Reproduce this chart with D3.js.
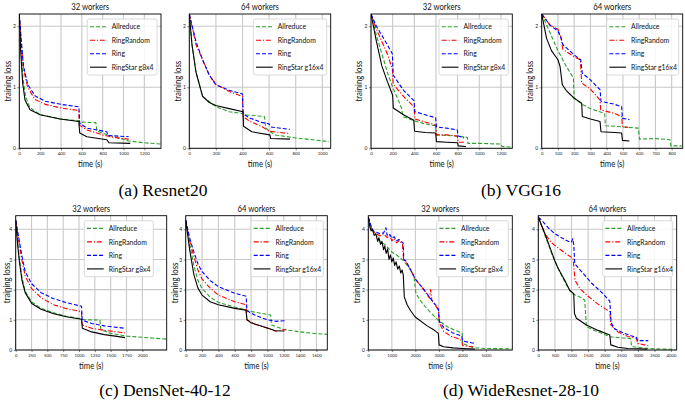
<!DOCTYPE html>
<html><head><meta charset="utf-8">
<script src="https://cdn.jsdelivr.net/npm/d3@7"></script>
<style>
html,body{margin:0;padding:0;background:#fff;}
svg{display:block;}
</style></head>
<body>
<svg id="chart" width="685" height="403"></svg>
<script>
// ---------- DATA ----------
const seriesNames = ["Allreduce", "RingRandom", "Ring", "RingStar"];
const captions = ["(a) Resnet20", "(b) VGG16", "(c) DensNet-40-12", "(d) WideResnet-28-10"];
const panelTitles = ["32 workers", "64 workers", "32 workers", "64 workers", "32 workers", "64 workers", "32 workers", "64 workers"];
const ringStarLabels = ["RingStar g8x4", "RingStar g16x4", "RingStar g8x4", "RingStar g16x4", "RingStar g8x4", "RingStar g16x4", "RingStar g8x4", "RingStar g16x4"];
const xTicksResnet32 = [0, 200, 400, 600, 800, 1000, 1200];
const xTicksResnet64 = [0, 200, 400, 600, 800, 1000];
const xTicksVgg32 = [0, 200, 400, 600, 800, 1000, 1200];
const xTicksVgg64 = [0, 100, 200, 300, 400, 500, 600, 700, 800];
const xTicksDense32 = [0, 250, 500, 750, 1000, 1250, 1500, 1750, 2000];
const xTicksDense64 = [0, 200, 400, 600, 800, 1000, 1200, 1400, 1600];
const xTicksWide32 = [0, 1000, 2000, 3000, 4000, 5000];
const xTicksWide64 = [0, 500, 1000, 1500, 2000, 2500, 3000, 3500, 4000];
const yTicksTop = [0, 1, 2];
const yTicksBottom = [0, 1, 2, 3, 4];
const xMax = [1360, 1063, 1305, 868, 2385, 1733, 6120, 4170];
const yMax = [2.2, 2.2, 2.2, 2.2, 4.45, 4.45, 4.45, 4.45];

// Resnet20, 32 workers
const resnet32_allreduce = [[0,2.2],[15,1.7],[35,1.15],[60,0.85],[100,0.67],[200,0.55],[400,0.48],[575,0.45],[580,0.43],[735,0.42],[745,0.28],[850,0.22],[950,0.17],[1050,0.12],[1200,0.09],[1360,0.07]];
const resnet32_ringrandom = [[0,2.2],[15,1.8],[40,1.3],[80,1.0],[150,0.8],[250,0.72],[400,0.66],[570,0.62],[577,0.38],[650,0.3],[800,0.22],[900,0.18],[1050,0.15]];
const resnet32_ring = [[0,2.2],[15,1.85],[40,1.35],[80,1.05],[150,0.86],[250,0.77],[400,0.72],[572,0.68],[580,0.41],[650,0.33],[840,0.27],[850,0.21],[1050,0.19]];
const resnet32_ringstar = [[0,2.2],[13,1.6],[32,1.07],[55,0.79],[103,0.63],[200,0.55],[390,0.48],[571,0.44],[580,0.25],[648,0.19],[840,0.14],[860,0.09],[1065,0.08]];
// Resnet20, 64 workers
const resnet64_allreduce = [[0,2.2],[20,1.7],[50,1.25],[100,0.85],[200,0.68],[300,0.6],[400,0.57],[405,0.55],[565,0.52],[575,0.33],[640,0.22],[800,0.17],[1050,0.11]];
const resnet64_ringrandom = [[0,2.2],[50,1.7],[100,1.45],[150,1.2],[200,1.05],[300,0.93],[400,0.85],[404,0.52],[450,0.45],[550,0.35],[600,0.28],[755,0.24]];
const resnet64_ring = [[0,2.2],[50,1.75],[100,1.45],[150,1.2],[200,1.04],[300,0.95],[400,0.89],[404,0.57],[450,0.5],[550,0.42],[600,0.4],[612,0.35],[755,0.31]];
const resnet64_ringstar = [[0,2.2],[20,1.7],[50,1.25],[100,0.85],[150,0.75],[200,0.7],[300,0.65],[404,0.6],[408,0.36],[470,0.27],[606,0.22],[612,0.16],[757,0.15]];
// VGG16, 32 workers
const vgg32_allreduce = [[0,2.2],[50,1.85],[100,1.55],[150,1.25],[200,1.0],[250,0.8],[283,0.65],[295,0.52],[400,0.45],[500,0.4],[595,0.37],[605,0.22],[700,0.21],[800,0.2],[890,0.18],[895,0.08],[1000,0.08],[1200,0.07],[1210,0.03],[1305,0.02]];
const vgg32_ringrandom = [[0,2.2],[50,1.95],[100,1.75],[150,1.55],[197,1.3],[205,1.05],[300,0.85],[397,0.68],[405,0.48],[500,0.43],[597,0.38],[605,0.22],[700,0.22],[797,0.2],[805,0.1],[860,0.1]];
const vgg32_ring = [[0,2.2],[50,2.0],[100,1.85],[150,1.7],[197,1.55],[205,1.2],[300,0.95],[397,0.78],[405,0.6],[500,0.55],[597,0.5],[605,0.35],[700,0.33],[797,0.3],[805,0.2],[860,0.17]];
const vgg32_ringstar = [[0,2.2],[50,1.75],[100,1.35],[150,1.1],[200,0.87],[206,0.66],[300,0.55],[395,0.46],[403,0.28],[500,0.26],[597,0.25],[605,0.11],[700,0.1],[800,0.09],[806,0.04],[877,0.03]];
// VGG16, 64 workers
const vgg64_allreduce = [[0,2.2],[50,1.9],[100,1.6],[150,1.35],[195,1.15],[200,0.82],[250,0.72],[300,0.65],[388,0.57],[392,0.37],[450,0.36],[500,0.35],[595,0.33],[602,0.15],[700,0.16],[790,0.14],[795,0.04],[862,0.04]];
const vgg64_ringrandom = [[0,2.2],[50,2.02],[100,1.95],[118,1.83],[130,1.62],[200,1.5],[238,1.45],[246,1.07],[300,0.97],[359,0.79],[363,0.63],[450,0.57],[492,0.52],[497,0.36],[533,0.34]];
const vgg64_ring = [[0,2.2],[50,2.02],[100,1.92],[120,1.8],[130,1.7],[200,1.53],[240,1.45],[250,1.23],[300,1.12],[359,0.96],[365,0.77],[450,0.72],[492,0.68],[497,0.49],[540,0.47]];
const vgg64_ringstar = [[0,2.2],[30,1.8],[60,1.6],[100,1.45],[113,1.34],[127,1.04],[150,0.95],[200,0.82],[246,0.74],[250,0.52],[300,0.48],[359,0.44],[365,0.27],[450,0.26],[492,0.25],[497,0.13],[540,0.12]];
// DensNet-40-12, 32 workers
const dense32_allreduce = [[0,4.3],[30,3.6],[60,3.0],[100,2.4],[150,1.95],[250,1.6],[400,1.38],[600,1.23],[800,1.12],[1040,1.03],[1050,1.01],[1330,0.99],[1345,0.68],[1500,0.55],[1750,0.46],[2000,0.42],[2385,0.36]];
const dense32_ringrandom = [[0,4.3],[50,3.6],[100,2.95],[150,2.45],[250,2.04],[400,1.73],[600,1.5],[800,1.37],[1040,1.27],[1050,0.83],[1200,0.72],[1400,0.65],[1600,0.6],[1726,0.57]];
const dense32_ring = [[0,4.3],[50,3.7],[100,3.1],[150,2.6],[250,2.2],[400,1.9],[600,1.7],[800,1.57],[1040,1.45],[1050,0.99],[1200,0.88],[1400,0.8],[1600,0.75],[1726,0.72]];
const dense32_ringstar = [[0,4.3],[30,3.5],[60,2.9],[100,2.3],[150,1.9],[253,1.54],[400,1.35],[600,1.2],[800,1.1],[1040,1.02],[1053,0.72],[1200,0.6],[1400,0.51],[1600,0.45],[1726,0.41]];
// DensNet-40-12, 64 workers
const dense64_allreduce = [[0,4.3],[50,3.5],[100,2.8],[150,2.3],[200,2.04],[300,1.75],[400,1.58],[600,1.42],[740,1.33],[750,1.3],[1040,1.16],[1050,0.83],[1200,0.68],[1400,0.6],[1600,0.54],[1733,0.52]];
const dense64_ringrandom = [[0,4.3],[50,3.6],[100,3.1],[150,2.65],[200,2.35],[300,2.05],[400,1.82],[600,1.6],[740,1.5],[750,1.0],[850,0.85],[1000,0.72],[1100,0.62],[1150,0.65],[1230,0.68]];
const dense64_ring = [[0,4.3],[50,3.7],[100,3.25],[150,2.85],[200,2.6],[300,2.3],[400,2.1],[600,1.88],[740,1.78],[750,1.3],[850,1.15],[1000,1.0],[1100,0.95],[1230,0.97]];
const dense64_ringstar = [[0,4.3],[50,3.3],[100,2.5],[150,2.05],[200,1.82],[300,1.6],[400,1.5],[600,1.38],[737,1.32],[750,1.0],[800,0.9],[1000,0.73],[1100,0.64],[1208,0.63]];
// WideResnet-28-10, 32 workers
const wide32_allreduce = [[0,4.4],[150,4.0],[300,3.85],[500,3.6],[700,3.5],[1000,3.25],[1200,3.15],[1487,2.97],[1650,2.8],[1841,2.64],[1950,2.4],[2025,1.87],[2200,1.65],[2479,1.38],[2800,1.12],[3045,0.94],[3400,0.75],[3800,0.62],[3990,0.55],[4010,0.22],[4462,0.07],[5000,0.05],[6090,0.04]];
const wide32_ringrandom = [[0,4.4],[100,4.1],[200,3.92],[350,3.85],[500,3.78],[650,3.85],[800,3.72],[900,3.8],[1000,3.62],[1100,3.7],[1200,3.55],[1300,3.62],[1450,3.52],[1500,3.0],[1600,2.92],[2000,2.35],[2400,1.95],[2600,1.72],[2650,2.0],[2700,1.65],[2900,1.42],[2980,1.32],[3020,0.9],[3200,0.62],[3500,0.46],[3800,0.38],[3970,0.32],[4010,0.15],[4200,0.12],[4462,0.11]];
const wide32_ring = [[0,4.4],[100,4.15],[200,3.95],[350,3.9],[500,3.85],[650,3.88],[750,4.05],[800,3.8],[900,3.85],[1000,3.7],[1100,3.75],[1200,3.62],[1300,3.66],[1480,3.55],[1510,3.0],[1600,2.95],[2000,2.35],[2400,1.97],[2600,1.75],[2900,1.45],[2980,1.36],[3020,0.95],[3200,0.75],[3600,0.56],[3970,0.46],[4010,0.3],[4300,0.25],[4533,0.22]];
const wide32_ringstar = [[0,4.4],[60,4.1],[120,3.95],[180,4.0],[250,3.8],[320,3.85],[400,3.6],[450,3.72],[520,3.5],[580,3.6],[650,3.32],[700,3.45],[760,3.2],[820,3.35],[880,3.0],[940,3.15],[1000,2.92],[1060,3.05],[1120,2.8],[1180,2.92],[1250,2.68],[1320,2.78],[1380,2.55],[1440,2.65],[1487,2.48],[1530,1.76],[1650,1.5],[1800,1.3],[1983,1.1],[2500,0.8],[2800,0.66],[2975,0.55],[3010,0.17],[3200,0.11],[3600,0.07],[4000,0.05],[4533,0.03]];
// WideResnet-28-10, 64 workers
const wide64_allreduce = [[0,4.4],[200,3.8],[400,3.2],[500,2.95],[600,2.7],[800,2.25],[1000,1.88],[1249,1.76],[1400,1.65],[1450,0.77],[1700,0.65],[2155,0.44],[2500,0.4],[2780,0.38],[2810,0.12],[3000,0.08],[3500,0.04],[4119,0.02]];
const wide64_ringrandom = [[0,4.4],[200,3.85],[400,3.55],[600,3.38],[800,3.22],[1047,3.03],[1107,2.31],[1249,2.04],[1500,1.78],[1800,1.52],[2155,1.27],[2185,0.83],[2400,0.6],[2700,0.45],[2961,0.39],[2990,0.22],[3313,0.14]];
const wide64_ring = [[0,4.4],[100,4.3],[300,4.05],[500,3.85],[700,3.72],[900,3.6],[997,3.58],[1040,3.69],[1070,3.45],[1098,2.86],[1300,2.6],[1600,2.22],[1900,1.92],[2155,1.62],[2195,0.9],[2300,0.7],[2600,0.55],[2800,0.47],[2961,0.42],[2990,0.31],[3313,0.31]];
const wide64_ringstar = [[0,4.4],[200,3.85],[400,3.25],[500,2.95],[600,2.7],[800,2.3],[946,1.98],[1067,1.87],[1090,1.21],[1148,1.05],[1450,0.83],[1800,0.65],[2155,0.5],[2185,0.17],[2400,0.09],[2700,0.05],[3000,0.04],[3283,0.03]];

// ---------- LAYOUT ----------
const panelBoxes = [
  [19.3, 161, 14, 148.3], [189.3, 330.7, 14, 148.3], [371, 512.3, 14, 148.3], [541.7, 682.7, 14, 148.3],
  [15.7, 166.7, 215.7, 350], [185.7, 327.3, 215.7, 350], [368.3, 512.3, 215.7, 350], [538.3, 676.7, 215.7, 350]
];
const legendLeft = [87.3, 253.3, 439, 606.7, 84.3, 251, 436.7, 602.7];
const yLabelOffset = [-11.8, -11.6, -12, -11.7, -9.4, -10.7, -11.3, -11.3];
const captionPos = [[163, 196], [521, 196], [165, 396], [521, 396]];

const panelData = [
  [resnet32_allreduce, resnet32_ringrandom, resnet32_ring, resnet32_ringstar],
  [resnet64_allreduce, resnet64_ringrandom, resnet64_ring, resnet64_ringstar],
  [vgg32_allreduce, vgg32_ringrandom, vgg32_ring, vgg32_ringstar],
  [vgg64_allreduce, vgg64_ringrandom, vgg64_ring, vgg64_ringstar],
  [dense32_allreduce, dense32_ringrandom, dense32_ring, dense32_ringstar],
  [dense64_allreduce, dense64_ringrandom, dense64_ring, dense64_ringstar],
  [wide32_allreduce, wide32_ringrandom, wide32_ring, wide32_ringstar],
  [wide64_allreduce, wide64_ringrandom, wide64_ring, wide64_ringstar]
];
const panelXTicks = [xTicksResnet32, xTicksResnet64, xTicksVgg32, xTicksVgg64, xTicksDense32, xTicksDense64, xTicksWide32, xTicksWide64];

const styles = [
  {color: "#2ca02c", dash: "4,2"},
  {color: "#ff0000", dash: "5,1.8,1.2,1.8"},
  {color: "#0000ff", dash: "4,2"},
  {color: "#000000", dash: null}
];
const sansFont = "Lato, 'DejaVu Sans', sans-serif";
const squeeze = 0.86;

const svg = d3.select("#chart");
svg.append("rect").attr("width", 685).attr("height", 403).attr("fill", "#fff");

function sansText(parent, x, y, txt, size, anchor, rotate) {
  return parent.append("text")
    .attr("transform", `translate(${x},${y})${rotate ? " rotate(-90)" : ""} scale(${squeeze},1)`)
    .attr("text-anchor", anchor).attr("dominant-baseline", "central")
    .attr("font-family", sansFont).attr("font-size", size).attr("fill", "#111").text(txt);
}

panelBoxes.forEach((box, i) => {
  const [x0, x1, y0, y1] = box;
  const x = d3.scaleLinear().domain([0, xMax[i]]).range([x0, x1]);
  const y = d3.scaleLinear().domain([0, yMax[i]]).range([y1, y0]);
  const yTicks = i < 4 ? yTicksTop : yTicksBottom;
  const g = svg.append("g");

  // grid
  g.append("g").selectAll("line").data(panelXTicks[i]).join("line")
    .attr("x1", d => x(d)).attr("x2", d => x(d)).attr("y1", y0).attr("y2", y1)
    .attr("stroke", "#c8c8c8").attr("stroke-width", 1.1);
  g.append("g").selectAll("line").data(yTicks).join("line")
    .attr("x1", x0).attr("x2", x1).attr("y1", d => y(d)).attr("y2", d => y(d))
    .attr("stroke", "#c8c8c8").attr("stroke-width", 1.1);

  // axes
  const xAxis = d3.axisBottom(x).tickValues(panelXTicks[i]).tickSize(2).tickPadding(1.5).tickFormat(d3.format("d"));
  const yAxis = d3.axisLeft(y).tickValues(yTicks).tickSize(2).tickPadding(1.5).tickFormat(d3.format("d"));
  const gx = g.append("g").attr("transform", `translate(0,${y1})`).call(xAxis);
  const gy = g.append("g").attr("transform", `translate(${x0},0)`).call(yAxis);
  [gx, gy].forEach(a => {
    a.select(".domain").remove();
    a.selectAll(".tick line").attr("stroke", "#333").attr("stroke-width", 0.6);
    a.selectAll(".tick text").attr("font-family", sansFont).attr("font-size", 4.3).attr("fill", "#222");
  });
  gy.selectAll(".tick text").attr("font-size", 5);

  // clip
  const clipId = "clip" + i;
  svg.append("clipPath").attr("id", clipId).append("rect")
    .attr("x", x0).attr("y", y0).attr("width", x1 - x0).attr("height", y1 - y0);

  const line = d3.line().x(d => x(d[0])).y(d => y(d[1]));
  const lines = g.append("g").attr("clip-path", `url(#${clipId})`);
  panelData[i].forEach((ser, s) => {
    lines.append("path").datum(ser)
      .attr("d", line)
      .attr("fill", "none")
      .attr("stroke", styles[s].color)
      .attr("stroke-width", 1.1)
      .attr("stroke-dasharray", styles[s].dash)
      .attr("stroke-linejoin", "round");
  });

  // frame
  g.append("rect").attr("x", x0).attr("y", y0).attr("width", x1 - x0).attr("height", y1 - y0)
    .attr("fill", "none").attr("stroke", "#000").attr("stroke-width", 0.9);

  // titles and labels
  sansText(g, (x0 + x1) / 2, y0 - 6.8, panelTitles[i], 9, "middle", false);
  sansText(g, (x0 + x1) / 2, y1 + 15.5, "time (s)", 9, "middle", false);
  sansText(g, x0 + yLabelOffset[i], (y0 + y1) / 2, "training loss", 9, "middle", true);

  // legend
  const labels = ["Allreduce", "RingRandom", "Ring", ringStarLabels[i]];
  const lx = legendLeft[i], ly = y0 + 5;
  const lw = i === 4 ? 69 : x1 - 4 - lx;
  const lg = g.append("g");
  lg.append("rect").attr("x", lx).attr("y", ly).attr("width", lw).attr("height", 56)
    .attr("rx", 2).attr("fill", "#fff").attr("fill-opacity", 0.85).attr("stroke", "#d0d0d0").attr("stroke-width", 0.8);
  labels.forEach((lab, s) => {
    const yy = ly + 7.7 + s * 13.5;
    lg.append("line").attr("x1", lx + 2.7).attr("x2", lx + 19.4).attr("y1", yy).attr("y2", yy)
      .attr("stroke", styles[s].color).attr("stroke-width", 1.1).attr("stroke-dasharray", styles[s].dash);
    sansText(lg, lx + 24.4, yy, lab, 8, "start", false);
  });
});

// captions
captions.forEach((c, k) => {
  svg.append("text").attr("x", captionPos[k][0]).attr("y", captionPos[k][1]).attr("text-anchor", "middle")
    .attr("font-family", "'Liberation Serif', 'DejaVu Serif', serif").attr("font-size", 17.5).text(c);
});
</script>
</body></html>
